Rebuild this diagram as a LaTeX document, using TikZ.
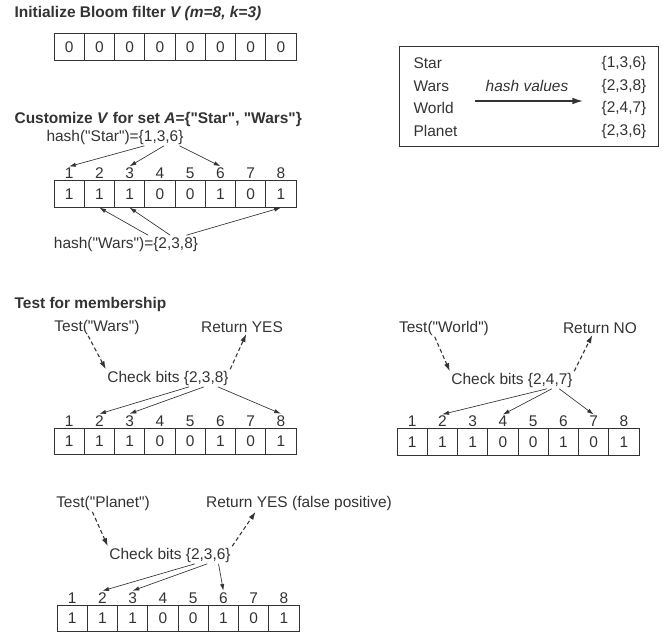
\documentclass[tikz,border=0pt]{standalone}
\usepackage{fontspec}
\setmainfont{Liberation Sans}[Ligatures=TeXOff]
\usetikzlibrary{positioning,calc,arrows.meta}
\definecolor{ink}{gray}{0.2}

\begin{document}
\begin{tikzpicture}[x=0.75pt,y=-0.75pt,
    every node/.style={font=\fontsize{11.6pt}{13pt}\selectfont, text=ink, inner sep=1pt},
    cell/.style={draw=ink, line width=0.6pt, minimum width=22.7pt, minimum height=19.9pt, inner sep=0pt},
    head/.style={font=\fontsize{11.6pt}{13pt}\selectfont\bfseries, anchor=west},
    hasharrow/.style={-{Latex[length=5pt,width=3.2pt]}, draw=ink, line width=0.5pt},
    testarrow/.style={-{Latex[length=6pt,width=4pt]}, draw=ink, line width=0.8pt, dash pattern=on 3pt off 2pt}]

	\useasboundingbox (0,0) rectangle (667,637);

	% headings
	\node[head] (h-init) at (13,13) {Initialize Bloom filter \textit{V (m=8, k=3)}};
	\node[head] (h-cust) at (13,119) {Customize \textit{V} for set \textit{A}=\{"Star", "Wars"\}};
	\node[head] (h-test) at (13,304) {Test for membership};

	% empty filter
	\foreach \v [count=\i] in {0,0,0,0,0,0,0,0}
		\node[cell] (init-\i) at ({54+30.25*(\i-0.5)},47) {\v};

	% filter after inserting Star and Wars
	\foreach \v [count=\i] in {1,1,1,0,0,1,0,1} {
		\node[cell] (cust-\i) at ({54+30.25*(\i-0.5)},194) {\v};
		\node[above=0pt of cust-\i] (cust-n\i) {\i};
	}
	\node (hashstar) at (115,137) {hash("Star")=\{1,3,6\}};
	\node (hashwars) at (126,244) {hash("Wars")=\{2,3,8\}};
	\foreach \f/\j in {0.71/1, 0.85/3, 0.96/6}
		\draw[hasharrow] ($(hashstar.south west)!\f!(hashstar.south east)$) -- (cust-n\j.north);
	\foreach \f/\j in {0.65/2, 0.8/3, 0.91/8}
		\draw[hasharrow] ($(hashwars.north west)!\f!(hashwars.north east)$) -- (cust-\j.south);

	% hash table box
	\draw[ink, line width=0.7pt] (399,46) rectangle (658,146);
	\node[anchor=west] (k-star) at (412,63) {Star};
	\node[anchor=west] (k-wars) at (412,86) {Wars};
	\node[anchor=west] (k-world) at (412,108) {World};
	\node[anchor=west] (k-planet) at (412,131) {Planet};
	\node[anchor=east] (v-star) at (648,63) {\{1,3,6\}};
	\node[anchor=east] (v-wars) at (648,86) {\{2,3,8\}};
	\node[anchor=east] (v-world) at (648,108) {\{2,4,7\}};
	\node[anchor=east] (v-planet) at (648,131) {\{2,3,6\}};
	\node (hv) at (527,86) {\itshape hash values};
	\coordinate (hv-a) at (475,101);
	\coordinate (hv-b) at (583,101);
	\draw[-{Latex[length=8pt,width=5pt]}, ink, line width=1pt] (hv-a) -- (hv-b);

	% test Wars
	\foreach \v [count=\i] in {1,1,1,0,0,1,0,1} {
		\node[cell] (wars-\i) at ({54+30.25*(\i-0.5)},441.5) {\v};
		\node[above=0pt of wars-\i] (wars-n\i) {\i};
	}
	\node (testwars) at (97,327) {Test("Wars")};
	\node (retyes) at (242,327) {Return YES};
	\node (chk1) at (168,378) {Check bits \{2,3,8\}};
	\draw[testarrow] ($(testwars.south west)!0.4!(testwars.south east)$) -- (chk1.north west);
	\draw[testarrow] (chk1.north east) -- ($(retyes.south west)!0.55!(retyes.south east)$);
	\foreach \f/\j in {0.67/2, 0.79/3, 0.9/8}
		\draw[hasharrow] ($(chk1.south west)!\f!(chk1.south east)$) -- (wars-n\j.north);

	% test World
	\foreach \v [count=\i] in {1,1,1,0,0,1,0,1} {
		\node[cell] (world-\i) at ({397+30.25*(\i-0.5)},442) {\v};
		\node[above=0pt of world-\i] (world-n\i) {\i};
	}
	\node (testworld) at (444,328) {Test("World")};
	\node (retno) at (600,328) {Return NO};
	\node (chk2) at (512,380) {Check bits \{2,4,7\}};
	\draw[testarrow] ($(testworld.south west)!0.4!(testworld.south east)$) -- (chk2.north west);
	\draw[testarrow] (chk2.north east) -- ($(retno.south west)!0.4!(retno.south east)$);
	\foreach \f/\j in {0.78/2, 0.82/4, 0.88/7}
		\draw[hasharrow] ($(chk2.south west)!\f!(chk2.south east)$) -- (world-n\j.north);

	% test Planet
	\foreach \v [count=\i] in {1,1,1,0,0,1,0,1} {
		\node[cell] (planet-\i) at ({57+30.25*(\i-0.5)},618.5) {\v};
		\node[above=0pt of planet-\i] (planet-n\i) {\i};
	}
	\node (testplanet) at (103,503) {Test("Planet")};
	\node (retfp) at (299,503) {Return YES (false positive)};
	\node (chk3) at (170,555) {Check bits \{2,3,6\}};
	\draw[testarrow] ($(testplanet.south west)!0.39!(testplanet.south east)$) -- (chk3.north west);
	\draw[testarrow] (chk3.north east) -- ($(retfp.south west)!0.27!(retfp.south east)$);
	\foreach \f/\j in {0.7/2, 0.8/3, 0.89/6}
		\draw[hasharrow] ($(chk3.south west)!\f!(chk3.south east)$) -- (planet-n\j.north);

\end{tikzpicture}
\end{document}
